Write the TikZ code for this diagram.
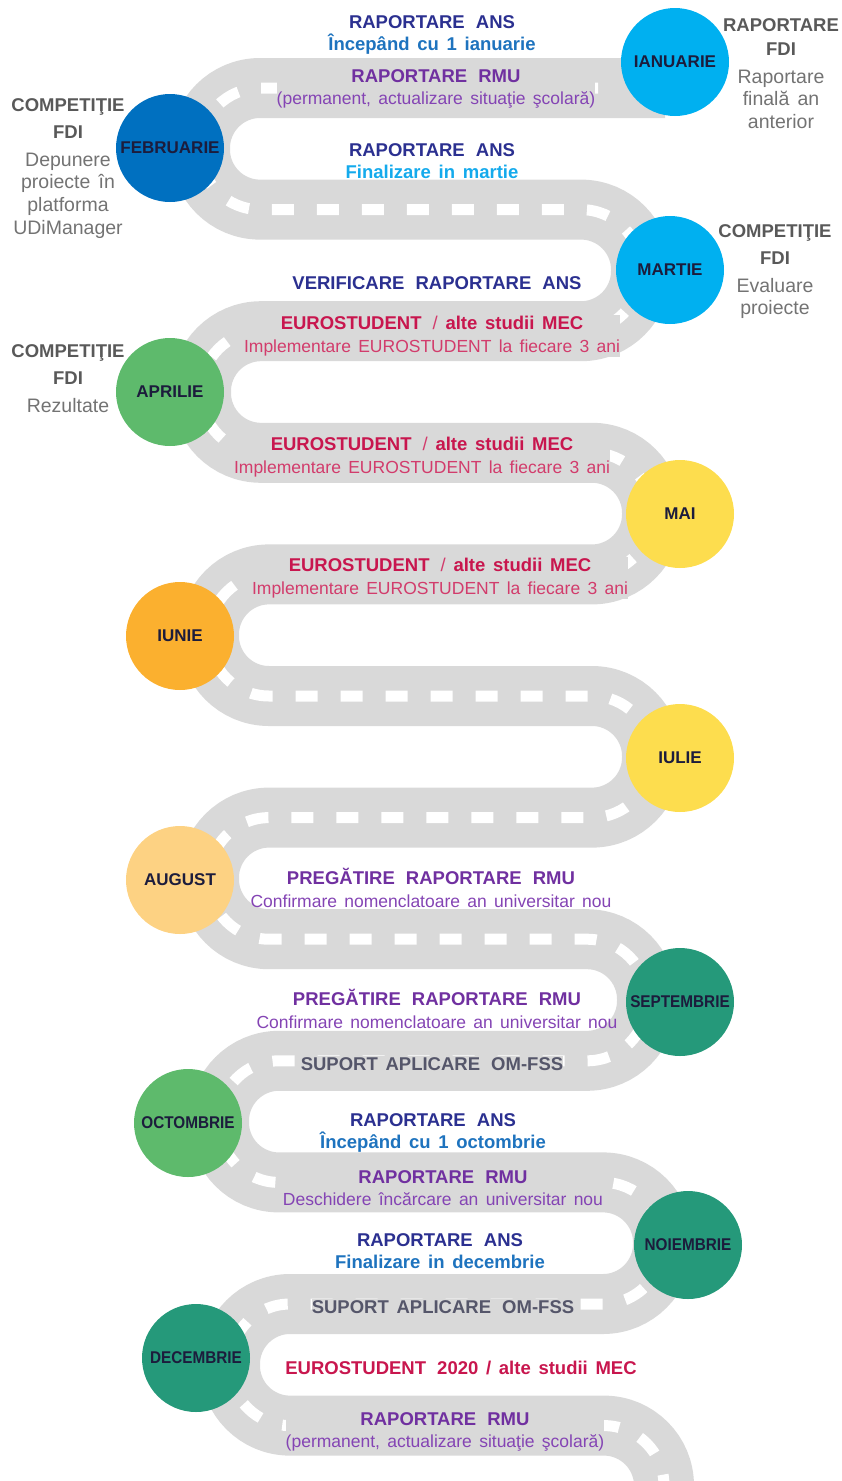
\documentclass[tikz,border=0pt]{standalone}
\usepackage{fontspec}
\setmainfont{Liberation Sans}[WordSpace=1.5]
\usetikzlibrary{positioning}

\definecolor{roadgrey}{HTML}{D9D9D9}
\definecolor{navy}{HTML}{2B3090}
\definecolor{blueln}{HTML}{1E73BE}
\definecolor{cyanln}{HTML}{14AAEC}
\definecolor{purple}{HTML}{7030A0}
\definecolor{lpurple}{HTML}{8444B4}
\definecolor{crimson}{HTML}{C8164E}
\definecolor{lcrimson}{HTML}{D23C6C}
\definecolor{greyttl}{HTML}{55566A}
\definecolor{sidebold}{HTML}{595959}
\definecolor{sidetxt}{HTML}{737373}
\definecolor{monthtxt}{HTML}{1C1C3C}
\definecolor{cblue}{HTML}{00B0F0}
\definecolor{cdblue}{HTML}{0070C0}
\definecolor{cgreen}{HTML}{5EBA6C}
\definecolor{cyellow}{HTML}{FDDD4E}
\definecolor{corange}{HTML}{FBB02F}
\definecolor{cpeach}{HTML}{FDD283}
\definecolor{cteal}{HTML}{25997A}

\newcommand{\wsp}{\hspace{0.6em}}
\newcommand{\lblfnt}{\fontsize{17.5}{22.5}\selectfont}
\newcommand{\rdhead}[2]{{\fontsize{18.5}{22.5}\selectfont\bfseries\color{#1}#2}}
\newcommand{\sidefnt}{\fontsize{19.5}{22.7}\selectfont}
\newcommand{\sidehead}[1]{{\fontsize{18.5}{22.7}\selectfont\bfseries\color{sidebold}#1}}
\newcommand{\monthfnt}{\fontsize{17}{20}\selectfont\bfseries}
\newcommand{\narrow}[1]{\scalebox{0.9}[1]{#1}}

\begin{document}
\begin{tikzpicture}[x=1pt, y=-1pt,
        road/.style={line width=60pt, draw=roadgrey, rounded corners=60pt},
        roadline/.style={line width=11pt, draw=white, rounded corners=60pt, dash pattern=on 22pt off 23pt},
        month/.style={circle, minimum size=108pt, inner sep=0pt, text=monthtxt, font=\monthfnt},
        lbl/.style={align=center, inner sep=1pt, font=\lblfnt},
        onroad/.style={lbl, fill=roadgrey, inner xsep=0pt, inner ysep=1pt},
        side/.style={align=center, inner sep=0pt, font=\sidefnt, text=sidetxt, anchor=north}
    ]

    \useasboundingbox (0,0) rectangle (841,1481);
    \clip (0,0) rectangle (841,1481);

    % Road
    \draw[road] (665,88) -- (200,88) -- (200,209.6) -- (641,209.6) -- (641,331.2)
        -- (201,331.2) -- (201,452.8) -- (652,452.8) -- (652,574.4) -- (209,574.4)
        -- (209,696) -- (652,696) -- (652,817.6) -- (209,817.6) -- (209,939.2)
        -- (647,939.2) -- (647,1060.8) -- (219,1060.8) -- (219,1182.4) -- (663,1182.4)
        -- (663,1304) -- (230,1304) -- (230,1425.6) -- (664,1425.6) -- (664,1540);
    \draw[roadline] (598,88) -- (200,88) -- (200,209.6) -- (641,209.6) -- (641,331.2)
        -- (201,331.2) -- (201,452.8) -- (652,452.8) -- (652,574.4) -- (209,574.4)
        -- (209,696) -- (652,696) -- (652,817.6) -- (209,817.6) -- (209,939.2)
        -- (647,939.2) -- (647,1060.8) -- (219,1060.8) -- (219,1182.4) -- (663,1182.4)
        -- (663,1304) -- (230,1304) -- (230,1425.6) -- (664,1425.6) -- (664,1540);

    % Months
    \node[month, fill=cblue] (ian) at (675,62) {IANUARIE};
    \node[month, fill=cdblue] (feb) at (170,148) {FEBRUARIE};
    \node[month, fill=cblue] (mar) at (670,270) {MARTIE};
    \node[month, fill=cgreen] (apr) at (170,392) {APRILIE};
    \node[month, fill=cyellow] (mai) at (680,514) {MAI};
    \node[month, fill=corange] (iun) at (180,636) {IUNIE};
    \node[month, fill=cyellow] (iul) at (680,758) {IULIE};
    \node[month, fill=cpeach] (aug) at (180,880) {AUGUST};
    \node[month, fill=cteal] (sep) at (680,1002) {\narrow{SEPTEMBRIE}};
    \node[month, fill=cgreen] (oct) at (188,1123) {\narrow{OCTOMBRIE}};
    \node[month, fill=cteal] (noi) at (688,1245) {\narrow{NOIEMBRIE}};
    \node[month, fill=cteal] (dec) at (196,1358) {\narrow{DECEMBRIE}};

    % FDI notes
    \node[side] (ianfdi) at (781,18) {\sidehead{RAPORTARE}\\[1.5pt]\sidehead{FDI}\\[5pt]Raportare\\finală an\\anterior};
    \node[side] (febfdi) at (68,98) {\sidehead{COMPETIŢIE}\\[4.5pt]\sidehead{FDI}\\[5pt]Depunere\\proiecte în\\platforma\\UDiManager};
    \node[side] (marfdi) at (775,224) {\sidehead{COMPETIŢIE}\\[4.5pt]\sidehead{FDI}\\[5pt]Evaluare\\proiecte};
    \node[side] (aprfdi) at (68,344) {\sidehead{COMPETIŢIE}\\[4.5pt]\sidehead{FDI}\\[5pt]Rezultate};

    % Activities along the road
    \node[lbl] (ans1) at (432,35) {\rdhead{navy}{RAPORTARE\wsp ANS}\\\rdhead{blueln}{Începând cu 1 ianuarie}};
    \node[onroad] (rmu1) at (436,89) {\rdhead{purple}{RAPORTARE\wsp RMU}\\\textcolor{lpurple}{(permanent, actualizare situaţie şcolară)}};
    \node[lbl] (ans2) at (432,161) {\rdhead{navy}{RAPORTARE\wsp ANS}\\\rdhead{cyanln}{Finalizare in martie}};
    \node[lbl] (verif) at (437,283) {\rdhead{navy}{VERIFICARE\wsp RAPORTARE\wsp ANS}};
    \node[onroad] (euro1) at (432,336) {\rdhead{crimson}{EUROSTUDENT\wsp {\mdseries\color{lcrimson}/} alte studii MEC}\\\textcolor{lcrimson}{Implementare EUROSTUDENT la fiecare 3 ani}};
    \node[onroad] (euro2) at (422,457) {\rdhead{crimson}{EUROSTUDENT\wsp {\mdseries\color{lcrimson}/} alte studii MEC}\\\textcolor{lcrimson}{Implementare EUROSTUDENT la fiecare 3 ani}};
    \node[onroad] (euro3) at (440,578) {\rdhead{crimson}{EUROSTUDENT\wsp {\mdseries\color{lcrimson}/} alte studii MEC}\\\textcolor{lcrimson}{Implementare EUROSTUDENT la fiecare 3 ani}};
    \node[lbl] (prep1) at (431,888) {\rdhead{purple}{PREGĂTIRE\wsp RAPORTARE\wsp RMU}\\\textcolor{lpurple}{Confirmare nomenclatoare an universitar nou}};
    \node[lbl] (prep2) at (437,1009) {\rdhead{purple}{PREGĂTIRE\wsp RAPORTARE\wsp RMU}\\\textcolor{lpurple}{Confirmare nomenclatoare an universitar nou}};
    \node[onroad] (oms1) at (432,1064) {\rdhead{greyttl}{SUPORT APLICARE\wsp OM-FSS}};
    \node[lbl] (ans3) at (433,1133) {\rdhead{navy}{RAPORTARE\wsp ANS}\\\rdhead{blueln}{Începând cu 1 octombrie}};
    \node[onroad] (rmu2) at (443,1188) {\rdhead{purple}{RAPORTARE\wsp RMU}\\\textcolor{lpurple}{Deschidere încărcare an universitar nou}};
    \node[lbl] (ans4) at (440,1251) {\rdhead{navy}{RAPORTARE\wsp ANS}\\\rdhead{blueln}{Finalizare in decembrie}};
    \node[onroad] (oms2) at (443,1307) {\rdhead{greyttl}{SUPORT APLICARE\wsp OM-FSS}};
    \node[lbl] (euro4) at (461,1368) {\rdhead{crimson}{EUROSTUDENT\wsp 2020 / alte studii MEC}};
    \node[onroad] (rmu3) at (445,1432) {\rdhead{purple}{RAPORTARE\wsp RMU}\\\textcolor{lpurple}{(permanent, actualizare situaţie şcolară)}};

\end{tikzpicture}
\end{document}
